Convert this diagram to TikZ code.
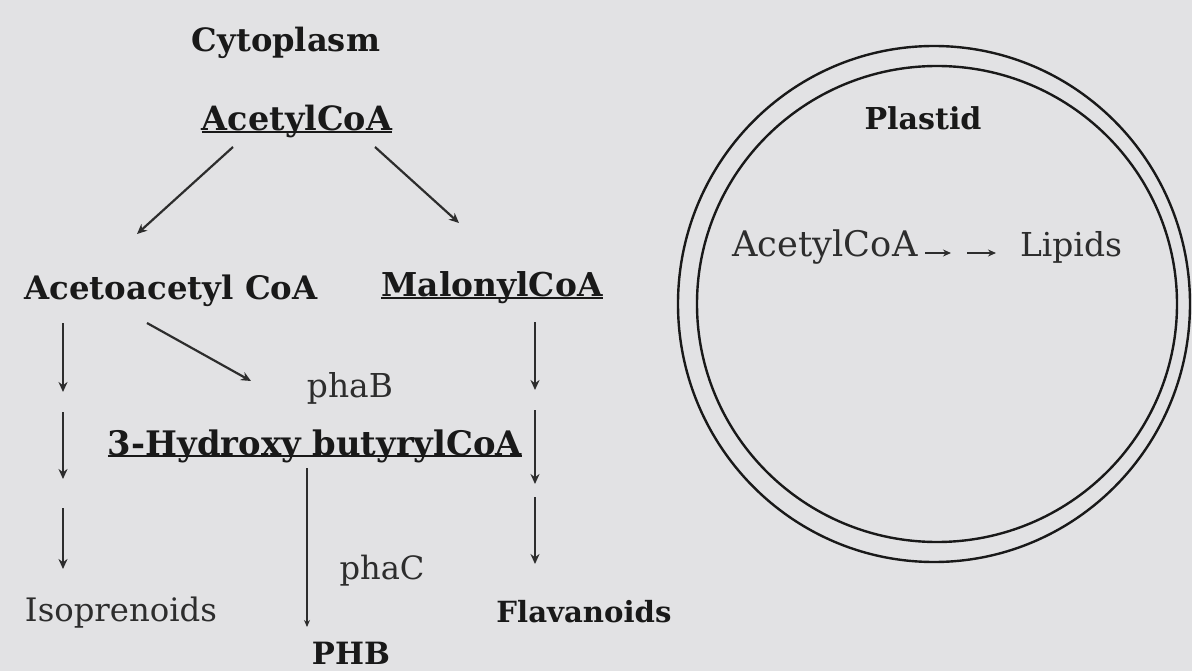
\documentclass[tikz,border=0pt]{standalone}
\usepackage{fontspec}
\setmainfont{DejaVu Serif}
\usepackage{graphicx}
\usetikzlibrary{arrows.meta}
\definecolor{bg}{RGB}{226,226,228}
\definecolor{ink}{RGB}{25,25,25}
\definecolor{inksoft}{RGB}{45,45,45}
\newcommand\fitlbl[2]{\resizebox{#1pt}{!}{#2}}
\newcommand\tightul[1]{\setbox0\hbox{#1}\rlap{\rule[-0.07em]{\wd0}{0.07em}}\box0}
\tikzset{
  lbl/.style={inner sep=0pt, anchor=base, text=ink},
  lblsoft/.style={inner sep=0pt, anchor=base, text=inksoft},
  conn/.style={draw=inksoft, line width=2.2pt, -{Stealth[length=10pt,width=9pt]}},
  membrane/.style={draw=ink, line width=2.4pt}
}
\begin{document}
\begin{tikzpicture}[x=1pt,y=-1pt]
\fill[bg] (0,0) rectangle (1192,671);
\useasboundingbox (0,0) rectangle (1192,671);

% cytoplasm labels
\node[lbl] (cyto) at (286,52) {\fitlbl{188}{\bfseries Cytoplasm}};
\node[lbl] (acetyl) at (297,131) {\fitlbl{190}{\bfseries\tightul{AcetylCoA}}};
\node[lbl] (acetoacetyl) at (171,300) {\fitlbl{293}{\bfseries Acetoacetyl CoA}};
\node[lbl] (malonyl) at (492,297) {\fitlbl{221}{\bfseries\tightul{MalonylCoA}}};
\node[lblsoft] (phab) at (350,397) {\fitlbl{86}{phaB}};
\node[lbl] (hydroxy) at (315,455) {\fitlbl{414}{\bfseries\tightul{3-Hydroxy butyrylCoA}}};
\node[lblsoft] (iso) at (121,621) {\fitlbl{192}{Isoprenoids}};
\node[lblsoft] (phac) at (382,579) {\fitlbl{85}{phaC}};
\node[lbl] (phb) at (351,664) {\fitlbl{78}{\bfseries PHB}};
\node[lbl] (flav) at (584,622) {\fitlbl{175}{\bfseries Flavanoids}};

% plastid
\draw[membrane] (934,304) ellipse [x radius=256, y radius=258];
\draw[membrane] (937,304) ellipse [x radius=240, y radius=238];
\node[lbl] (plastid) at (923,130) {\fitlbl{117}{\bfseries Plastid}};
\node[lblsoft] (pacetyl) at (825,257) {\fitlbl{185}{AcetylCoA}};
\node[lblsoft] (lipids) at (1071,257) {\fitlbl{102}{Lipids}};

% connector end points
\coordinate (a1s) at (233,147); \coordinate (a1e) at (137,234);
\coordinate (a2s) at (375,147); \coordinate (a2e) at (459,223);
\coordinate (a3s) at (147,323); \coordinate (a3e) at (251,381);
\coordinate (l1s) at (63,323); \coordinate (l1e) at (63,392);
\coordinate (l2s) at (63,412); \coordinate (l2e) at (63,479);
\coordinate (l3s) at (63,508); \coordinate (l3e) at (63,569);
\coordinate (cs) at (307,468); \coordinate (ce) at (307,627);
\coordinate (r1s) at (535,322); \coordinate (r1e) at (535,390);
\coordinate (r2s) at (535,410); \coordinate (r2e) at (535,484);
\coordinate (r3s) at (535,497); \coordinate (r3e) at (535,564);
\coordinate (p1s) at (925,253); \coordinate (p1e) at (951,253);
\coordinate (p2s) at (967,253); \coordinate (p2e) at (996,253);

\draw[conn] (a1s) -- (a1e);
\draw[conn] (a2s) -- (a2e);
\draw[conn] (a3s) -- (a3e);
\draw[conn] (l1s) -- (l1e);
\draw[conn] (l2s) -- (l2e);
\draw[conn] (l3s) -- (l3e);
\draw[conn, -{Stealth[length=7pt,width=6pt]}] (cs) -- (ce);
\draw[conn] (r1s) -- (r1e);
\draw[conn] (r2s) -- (r2e);
\draw[conn] (r3s) -- (r3e);
\draw[conn, line width=1.8pt, -{Stealth[length=8pt,width=7pt]}] (p1s) -- (p1e);
\draw[conn, line width=1.8pt, -{Stealth[length=8pt,width=7pt]}] (p2s) -- (p2e);
\end{tikzpicture}
\end{document}
